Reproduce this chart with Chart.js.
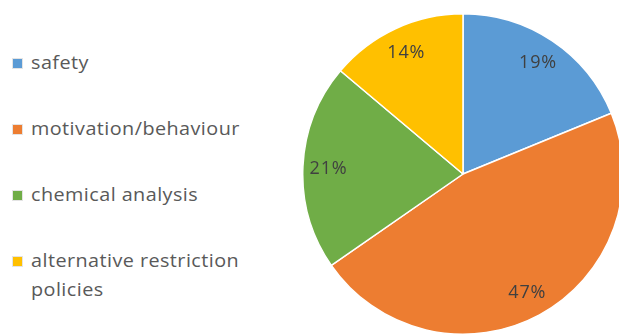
<!DOCTYPE html>
<html>
<head>
<meta charset="utf-8">
<script src="https://cdn.jsdelivr.net/npm/chart.js@4.4.1/dist/chart.umd.min.js"></script>
<style>
  html, body { margin: 0; padding: 0; width: 619px; height: 334px; overflow: hidden; background: #fff; }
  #legend { position: absolute; left: 12px; top: 0; font-family: "Open Sans", Lato, sans-serif; font-size: 18px; color: #595959; }
  .item { position: absolute; left: 0; white-space: nowrap; line-height: 29px; }
  .swatch { position: absolute; left: 0; width: 9px; height: 9px; border: 1px solid #e4e4e4; }
  .text { position: absolute; left: 19px; letter-spacing: 0.4px; transform: scaleX(1.1); transform-origin: 0 0; }
  #wrap { position: absolute; left: 302px; top: 13px; width: 322px; height: 322px; }
</style>
</head>
<body>
<div id="legend"></div>
<div id="wrap"><canvas id="pie"></canvas></div>
<script>
const categories = ['safety', 'motivation/behaviour', 'chemical analysis', 'alternative restriction policies'];
const legendLines = [['safety'], ['motivation/behaviour'], ['chemical analysis'], ['alternative restriction', 'policies']];
const shares = [19, 47, 21, 14];
const colors = ['#5B9BD5', '#ED7D31', '#70AD47', '#FFC000'];

// HTML legend on the left, one entry per category
const legend = document.getElementById('legend');
const itemTops = [48, 114, 180, 246];
legendLines.forEach((lines, i) => {
  const item = document.createElement('div');
  item.className = 'item';
  item.style.top = itemTops[i] + 'px';
  const sw = document.createElement('div');
  sw.className = 'swatch';
  sw.style.background = colors[i];
  sw.style.top = '10px';
  item.appendChild(sw);
  const tx = document.createElement('div');
  tx.className = 'text';
  tx.innerHTML = lines.join('<br>');
  item.appendChild(tx);
  legend.appendChild(item);
});

// Percentage labels inside each slice
const sliceLabels = {
  id: 'sliceLabels',
  afterDatasetsDraw(chart) {
    const ctx = chart.ctx;
    const meta = chart.getDatasetMeta(0);
    ctx.save();
    ctx.font = '18px "Open Sans", Lato, sans-serif';
    ctx.letterSpacing = '0.8px';
    ctx.fillStyle = '#404040';
    ctx.textAlign = 'center';
    ctx.textBaseline = 'middle';
    meta.data.forEach((arc, i) => {
      const p = arc.getProps(['x', 'y', 'startAngle', 'endAngle', 'outerRadius'], true);
      const mid = (p.startAngle + p.endAngle) / 2;
      const r = p.outerRadius * 0.84;
      ctx.fillText(shares[i] + '%', p.x + Math.cos(mid) * r, p.y + Math.sin(mid) * r + 1);
    });
    ctx.restore();
  }
};

new Chart(document.getElementById('pie'), {
  type: 'pie',
  data: {
    labels: categories,
    datasets: [{
      data: shares,
      backgroundColor: colors,
      borderColor: '#ffffff',
      borderWidth: 1.5
    }]
  },
  options: {
    responsive: true,
    maintainAspectRatio: false,
    animation: false,
    layout: { padding: 0 },
    plugins: { legend: { display: false }, tooltip: { enabled: false } }
  },
  plugins: [sliceLabels]
});
</script>
</body>
</html>
